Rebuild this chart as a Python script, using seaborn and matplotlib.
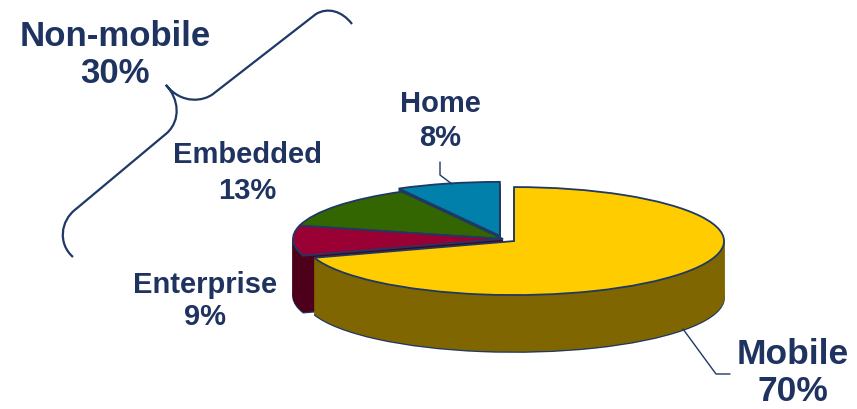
import numpy as np
import pandas as pd
import seaborn as sns
import matplotlib
matplotlib.use("Agg")
import matplotlib.pyplot as plt
from matplotlib.path import Path
from matplotlib.patches import PathPatch
from matplotlib.lines import Line2D

# ---- data ----
segments = ["Mobile", "Enterprise", "Embedded", "Home"]
shares = [70, 9, 13, 8]
top_colors = ["#FFCC00", "#990033", "#336600", "#0080AA"]
side_colors = ["#806600", "#4C0019", "#1A3300", "#1F3F66"]
explode = [0.065, 0.0, 0.0, 0.06]
draw_rank = [3, 2, 1, 0]          # back slices first, front slice last
group_name = "Non-mobile"
group_members = ["Enterprise", "Embedded", "Home"]

df = pd.DataFrame({"segment": segments, "share": shares})
group_share = int(df.loc[df.segment.isin(group_members), "share"].sum())

sns.set_theme(style="white")
plt.rcParams["font.family"] = ["Liberation Sans", "DejaVu Sans"]

W, H = 857, 410
fig = plt.figure(figsize=(W / 100, H / 100), dpi=100)
ax = fig.add_axes([0, 0, 1, 1])

navy = "#1F3864"
text_col = "#1F3361"

depth = 1.055
n_layers = 60
for k in range(n_layers + 1):
    d = depth * (1 - k / n_layers)
    top = k == n_layers
    bottom = k == 0
    if top:
        cols, lw, ec = top_colors, 1.3, navy
    elif bottom:
        cols, lw, ec = side_colors, 1.2, navy
    else:
        cols, lw, ec = side_colors, 0.6, None
    wedges, _ = ax.pie(df["share"], colors=cols, startangle=90, counterclock=False,
                       explode=explode, center=(0, -d), radius=1.0,
                       wedgeprops=dict(linewidth=lw))
    for i, w in enumerate(wedges):
        w.set_edgecolor(ec if ec is not None else side_colors[i])
        w.set_zorder(1 + draw_rank[i] + 0.95 * k / n_layers)

cx_px, cy_px = 503, 240
ax.set_xlim(-cx_px / 210, (W - cx_px) / 210)
ax.set_ylim(-(H - cy_px) / 54, cy_px / 54)
ax.set_aspect("auto")
ax.axis("off")


def fx(x):
    return x / W


def fy(y):
    return 1 - y / H


# ---- labels ----
label_style = {  # centre (px), font size, line spacing
    "Home": ((440, 121), 21, 1.3),
    "Embedded": ((247, 173), 21, 1.38),
    "Enterprise": ((205, 301), 21, 1.22),
    "Mobile": ((793, 373), 25.5, 1.17),
}
for seg, val in zip(segments, shares):
    (x, y), size, ls = label_style[seg]
    fig.text(fx(x), fy(y), f"{seg}\n{val}%", ha="center", va="center",
             fontsize=size, fontweight="bold", color=text_col, linespacing=ls)

fig.text(fx(115), fy(55), f"{group_name}\n{group_share}%", ha="center", va="center",
         fontsize=25, fontweight="bold", color=text_col, linespacing=1.16)

# leader lines
for pts in ([(440, 163), (440, 176), (452, 185)],
            [(683, 330), (716, 375), (730, 375)]):
    xs = [fx(p[0]) for p in pts]
    ys = [fy(p[1]) for p in pts]
    fig.add_artist(Line2D(xs, ys, color=navy, lw=1.0, transform=fig.transFigure))

# curly brace
brace = [
    ((352, 25), Path.MOVETO),
    ((342, 12), Path.CURVE4), ((328, 8), Path.CURVE4), ((316, 15), Path.CURVE4),
    ((213, 95), Path.LINETO),
    ((204, 102), Path.CURVE4), ((182, 106), Path.CURVE4), ((166, 86), Path.CURVE4),
    ((179, 100), Path.CURVE4), ((181, 121), Path.CURVE4), ((167, 134), Path.CURVE4),
    ((76, 210), Path.LINETO),
    ((60, 222), Path.CURVE4), ((58, 245), Path.CURVE4), ((73, 258), Path.CURVE4),
]
verts = [(fx(p[0]), fy(p[1])) for p, _ in brace]
codes = [c for _, c in brace]
fig.add_artist(PathPatch(Path(verts, codes), fill=False, edgecolor=navy, lw=1.6,
                         transform=fig.transFigure))

fig.savefig("out.png", dpi=100, facecolor="white")
